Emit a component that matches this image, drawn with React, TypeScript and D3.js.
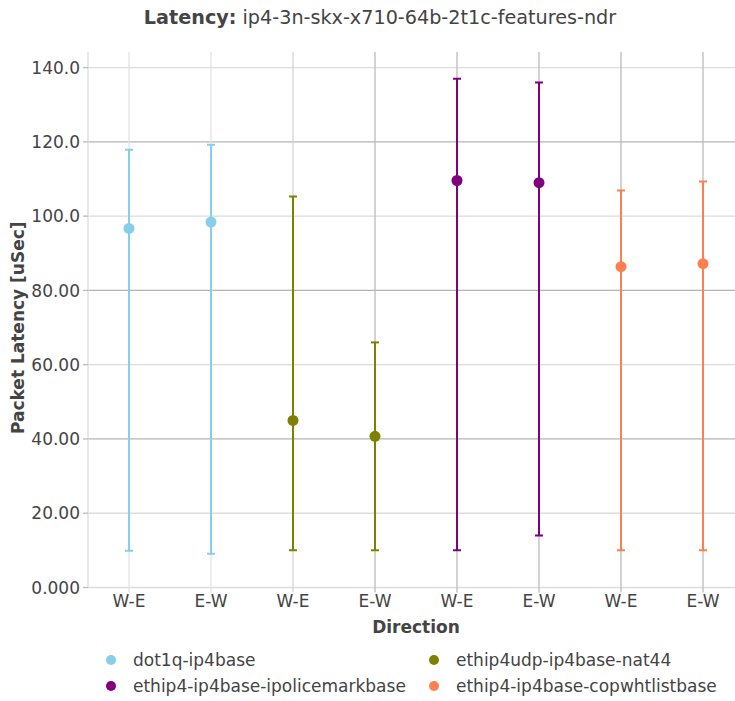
import { useEffect, useRef } from 'react';
import * as d3 from 'd3';

const directions = ["W-E", "E-W"];

const seriesNames = [
  "dot1q-ip4base",
  "ethip4udp-ip4base-nat44",
  "ethip4-ip4base-ipolicemarkbase",
  "ethip4-ip4base-copwhtlistbase",
];
const seriesColors = ["#87ceeb", "#808000", "#800080", "#ff7f50"];

// per series: [W-E, E-W]
const avgValues = [
  [96.7, 98.4],
  [45.0, 40.7],
  [109.6, 109.0],
  [86.4, 87.2],
];
const maxValues = [
  [117.9, 119.2],
  [105.3, 66.0],
  [137.0, 136.0],
  [106.9, 109.3],
];
const minValues = [
  [9.9, 9.1],
  [10.0, 10.0],
  [10.0, 14.0],
  [10.0, 10.0],
];

const yTicks = [0, 20, 40, 60, 80, 100, 120, 140];
const legendOrder = [0, 1, 2, 3];

const FONT = "'DejaVu Sans', Verdana, sans-serif";
const FS = 17;

export default function App() {
  const ref = useRef<SVGSVGElement | null>(null);
  const width = 735;
  const height = 701;

  useEffect(() => {
    if (!ref.current) return;
    const svg = d3.select(ref.current);
    svg.selectAll("*").remove();

    const margin = { top: 52, left: 88 };
    const plotRight = 744;
    const plotBottom = 587.5;

    const cats = seriesNames.flatMap((_, s) => directions.map((d, j) => `${s}-${j}`));

    const x = d3.scaleBand()
      .domain(cats)
      .range([margin.left, plotRight]);

    const y = d3.scaleLinear()
      .domain([0, 144.2])
      .range([plotBottom, margin.top]);

    svg.append("defs").append("clipPath")
      .attr("id", "plotclip")
      .append("rect")
      .attr("x", margin.left)
      .attr("y", margin.top)
      .attr("width", plotRight - margin.left)
      .attr("height", plotBottom - margin.top + 1);

    // horizontal grid
    svg.append("g")
      .selectAll("line")
      .data(yTicks)
      .enter()
      .append("line")
      .attr("x1", margin.left)
      .attr("x2", width)
      .attr("y1", d => y(d))
      .attr("y2", d => y(d))
      .attr("stroke", d => (d === 40 || d === 80 || d === 120) ? "#b4b4b4" : "#dcdcdc")
      .attr("stroke-width", 1.3);

    // vertical grid at categories
    svg.append("g")
      .selectAll("line")
      .data(cats)
      .enter()
      .append("line")
      .attr("x1", d => x(d)! + x.bandwidth() / 2)
      .attr("x2", d => x(d)! + x.bandwidth() / 2)
      .attr("y1", margin.top)
      .attr("y2", plotBottom + 5)
      .attr("stroke", (_, i) => i < 2 ? "#e2e2e2" : i === 2 ? "#d4d4d4" : "#bbbbbb")
      .attr("stroke-width", 1.3);

    // left axis line + ticks
    svg.append("line")
      .attr("x1", margin.left)
      .attr("x2", margin.left)
      .attr("y1", margin.top)
      .attr("y2", plotBottom)
      .attr("stroke", "#dcdcdc")
      .attr("stroke-width", 1.3);

    const fmt = d3.format(".4r");
    const yAxis = svg.append("g");
    yAxis.selectAll("line")
      .data(yTicks)
      .enter()
      .append("line")
      .attr("x1", margin.left - 5)
      .attr("x2", margin.left)
      .attr("y1", d => y(d))
      .attr("y2", d => y(d))
      .attr("stroke", "#bbbbbb")
      .attr("stroke-width", 1.3);
    yAxis.selectAll("text")
      .data(yTicks)
      .enter()
      .append("text")
      .attr("x", margin.left - 8)
      .attr("y", d => y(d))
      .attr("dy", "0.36em")
      .attr("text-anchor", "end")
      .attr("font-family", FONT)
      .attr("font-size", FS)
      .attr("fill", "#444")
      .text(d => fmt(d));

    // x tick labels
    svg.append("g")
      .selectAll("text")
      .data(cats)
      .enter()
      .append("text")
      .attr("x", d => x(d)! + x.bandwidth() / 2)
      .attr("y", plotBottom + 19)
      .attr("text-anchor", "middle")
      .attr("font-family", FONT)
      .attr("font-size", FS)
      .attr("fill", "#444")
      .text(d => directions[+d.split("-")[1]]);

    // error bars + markers
    const traces = svg.append("g").attr("clip-path", "url(#plotclip)");
    seriesNames.forEach((_, s) => {
      directions.forEach((_, j) => {
        const cx = x(`${s}-${j}`)! + x.bandwidth() / 2;
        const g = traces.append("g");
        g.append("line")
          .attr("x1", cx).attr("x2", cx)
          .attr("y1", y(minValues[s][j]))
          .attr("y2", y(maxValues[s][j]))
          .attr("stroke", seriesColors[s])
          .attr("stroke-width", 2);
        [minValues[s][j], maxValues[s][j]].forEach(v => {
          g.append("line")
            .attr("x1", cx - 4).attr("x2", cx + 4)
            .attr("y1", y(v)).attr("y2", y(v))
            .attr("stroke", seriesColors[s])
            .attr("stroke-width", 2);
        });
        g.append("circle")
          .attr("cx", cx)
          .attr("cy", y(avgValues[s][j]))
          .attr("r", 5.5)
          .attr("fill", seriesColors[s]);
      });
    });

    // title
    const title = svg.append("text")
      .attr("x", 380)
      .attr("y", 24)
      .attr("text-anchor", "middle")
      .attr("font-family", FONT)
      .attr("font-size", 19.2)
      .attr("fill", "#444");
    title.append("tspan").attr("font-weight", "bold").text("Latency:");
    title.append("tspan").text(" ip4-3n-skx-x710-64b-2t1c-features-ndr");

    // axis titles
    svg.append("text")
      .attr("x", (margin.left + plotRight) / 2)
      .attr("y", 633)
      .attr("text-anchor", "middle")
      .attr("font-family", FONT)
      .attr("font-size", FS)
      .attr("font-weight", "bold")
      .attr("fill", "#444")
      .text("Direction");

    svg.append("text")
      .attr("transform", `translate(24,${(margin.top + plotBottom) / 2 + 8}) rotate(-90)`)
      .attr("text-anchor", "middle")
      .attr("font-family", FONT)
      .attr("font-size", FS)
      .attr("font-weight", "bold")
      .attr("fill", "#444")
      .text("Packet Latency [uSec]");

    // legend
    const legend = svg.append("g");
    legendOrder.forEach((s, i) => {
      const col = i % 2;
      const row = Math.floor(i / 2);
      const lx = 111 + col * 323;
      const ly = 660 + row * 26;
      legend.append("circle")
        .attr("cx", lx)
        .attr("cy", ly)
        .attr("r", 5)
        .attr("fill", seriesColors[s]);
      legend.append("text")
        .attr("x", lx + 22)
        .attr("y", ly)
        .attr("dy", "0.36em")
        .attr("font-family", FONT)
        .attr("font-size", FS)
        .attr("fill", "#444")
        .text(seriesNames[s]);
    });
  }, []);

  return <svg ref={ref} width={width} height={height} style={{ position: "absolute", top: 0, left: 0 }} />;
}
